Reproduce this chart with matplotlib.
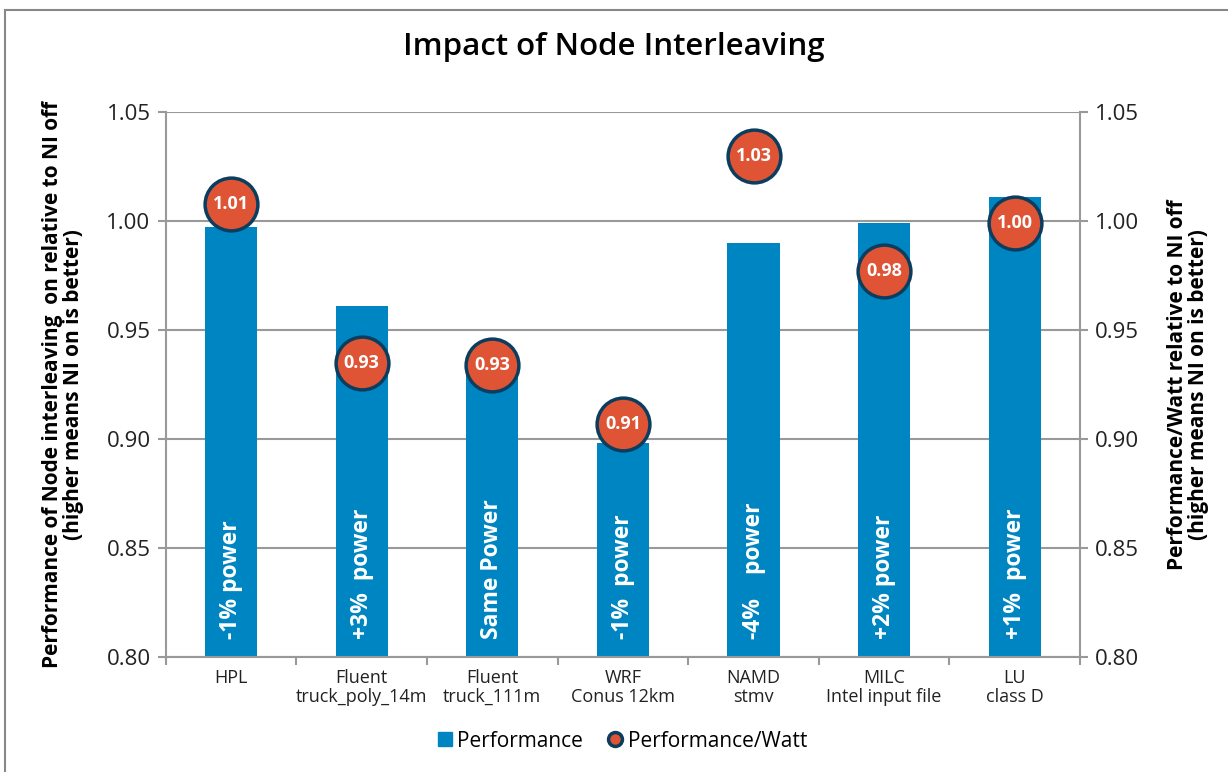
import matplotlib.pyplot as plt
from matplotlib.lines import Line2D
from matplotlib.patches import Rectangle

# data
apps = ['HPL', 'Fluent\ntruck_poly_14m', 'Fluent\ntruck_111m', 'WRF\nConus 12km',
        'NAMD\nstmv', 'MILC\nIntel input file', 'LU\nclass D']
perf = [0.997, 0.961, 0.932, 0.898, 0.990, 0.999, 1.011]
perf_watt = [1.008, 0.935, 0.934, 0.907, 1.030, 0.977, 0.999]
perf_watt_lbl = ['1.01', '0.93', '0.93', '0.91', '1.03', '0.98', '1.00']
power_txt = ['-1% power', '+3%  power', 'Same Power', '-1%  power',
             '-4%    power', '+2% power', '+1%  power']
yticks = [0.80, 0.85, 0.90, 0.95, 1.00, 1.05]

blue = '#0085C3'
red = '#DE5435'
navy = '#0B3E5E'
grey = '#999999'
plt.rcParams['font.family'] = ['Open Sans', 'DejaVu Sans']

fig = plt.figure(figsize=(12.28, 7.72), dpi=100)
ax = fig.add_axes([0.135, 0.149, 0.7445, 0.706])
x = list(range(len(apps)))

ax.bar(x, perf, width=0.4, color=blue, zorder=2)
ax.plot(x, perf_watt, 'o', ms=38, mfc=red, mec=navy, mew=2.5, zorder=4)
for i in x:
    ax.text(i, perf_watt[i], perf_watt_lbl[i], color='white', fontsize=13,
            fontweight='bold', ha='center', va='center', zorder=5)
    ax.text(i, 0.8083, power_txt[i], color='white', fontsize=16.5, fontweight='bold',
            rotation=90, ha='center', va='bottom', zorder=3)

ax.set_xlim(-0.5, 6.5)
ax.set_ylim(0.80, 1.05)
ax.set_yticks(yticks)
ax.set_yticklabels(['%.2f' % v for v in yticks], fontsize=16, color='#222222')
ax.yaxis.grid(True, color=grey, lw=1.5, zorder=0)
ax.set_xticks(x)
ax.set_xticklabels(apps, fontsize=13, color='#222222', linespacing=1.05)
ax.set_xticks([i - 0.5 for i in range(8)], minor=True)
ax.tick_params(axis='x', which='major', length=0, pad=9)
ax.tick_params(axis='x', which='minor', length=6, color=grey, width=1.5)
ax.tick_params(axis='y', length=6, color=grey, width=1.5, pad=5)
for s in ['left', 'right', 'bottom']:
    ax.spines[s].set_color(grey)
    ax.spines[s].set_linewidth(1.5)
ax.spines['top'].set_visible(False)
ax.set_ylabel('Performance of Node interleaving  on relative to NI off\n(higher means NI on is better)',
              fontsize=15, fontweight='bold', labelpad=16, linespacing=1.0)

ax2 = ax.twinx()
ax2.set_ylim(0.80, 1.05)
ax2.set_yticks(yticks)
ax2.set_yticklabels(['%.2f' % v for v in yticks], fontsize=16, color='#222222')
ax2.tick_params(axis='y', length=6, color=grey, width=1.5, pad=5)
for s in ax2.spines.values():
    s.set_visible(False)
ax2.set_ylabel('Performance/Watt relative to NI off\n(higher means NI on is better)',
               fontsize=15, fontweight='bold', labelpad=20, linespacing=1.0)

fig.suptitle('Impact of Node Interleaving', fontsize=22.5, fontweight='semibold', y=0.958)

handles = [Line2D([], [], ls='none', marker='s', ms=10, mfc=blue, mec=blue),
           Line2D([], [], ls='none', marker='o', ms=10, mfc=red, mec=navy, mew=2.5)]
fig.legend(handles, ['Performance', 'Performance/Watt'], loc='center',
           bbox_to_anchor=(0.505, 0.04), ncol=2, frameon=False, fontsize=15,
           handletextpad=0.05, columnspacing=1.0, handlelength=1.1)

fig.patches.append(Rectangle((0.004, -0.01), 1.0, 0.997, transform=fig.transFigure,
                             fill=False, ec='#888888', lw=1.5))

fig.savefig('out.png', dpi=100)
